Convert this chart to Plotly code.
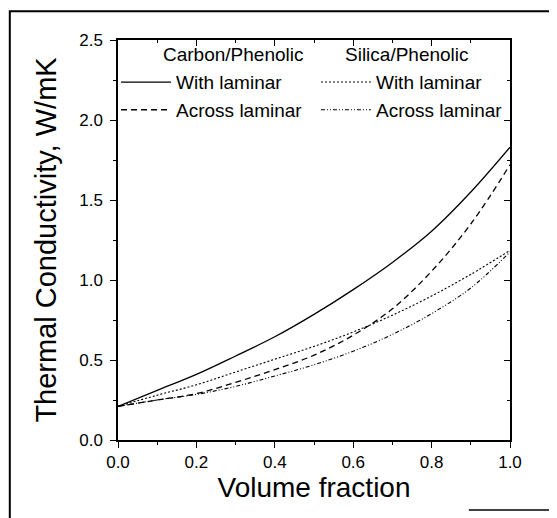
import plotly.graph_objects as go

volume_fraction = [0.0, 0.1, 0.2, 0.3, 0.4, 0.5, 0.6, 0.7, 0.8, 0.9, 1.0]
carbon_with = [0.21, 0.31, 0.41, 0.525, 0.645, 0.785, 0.94, 1.11, 1.305, 1.55, 1.83]
carbon_across = [0.21, 0.25, 0.29, 0.36, 0.44, 0.53, 0.655, 0.82, 1.055, 1.35, 1.72]
silica_with = [0.21, 0.28, 0.345, 0.425, 0.505, 0.585, 0.675, 0.78, 0.90, 1.035, 1.185]
silica_across = [0.21, 0.25, 0.285, 0.335, 0.40, 0.47, 0.555, 0.66, 0.79, 0.95, 1.175]

x_ticks = [0.0, 0.2, 0.4, 0.6, 0.8, 1.0]
x_tick_labels = ["0.0", "0.2", "0.4", "0.6", "0.8", "1.0"]
y_ticks = [0.0, 0.5, 1.0, 1.5, 2.0, 2.5]
y_tick_labels = ["0.0", "0.5", "1.0", "1.5", "2.0", "2.5"]

FONT = "Liberation Sans, Arial, sans-serif"

fig = go.Figure()
fig.add_trace(go.Scatter(x=volume_fraction, y=carbon_with, mode="lines", name="With laminar",
                         line=dict(color="black", width=1.3, shape="spline"), legend="legend"))
fig.add_trace(go.Scatter(x=volume_fraction, y=carbon_across, mode="lines", name="Across laminar",
                         line=dict(color="black", width=1.3, dash="6px,4px", shape="spline"), legend="legend"))
fig.add_trace(go.Scatter(x=volume_fraction, y=silica_with, mode="lines", name="With laminar",
                         line=dict(color="black", width=1.1, dash="2px,2px", shape="spline"), legend="legend2"))
fig.add_trace(go.Scatter(x=volume_fraction, y=silica_across, mode="lines", name="Across laminar",
                         line=dict(color="black", width=1.1, dash="4px,2px,1px,2px,1px,2px", shape="spline"),
                         legend="legend2"))
# invisible trace so the mirrored top/right axes (inward ticks) are drawn
fig.add_trace(go.Scatter(x=volume_fraction, y=carbon_with, mode="lines", xaxis="x2", yaxis="y2",
                         line=dict(color="rgba(0,0,0,0)", width=0), showlegend=False, hoverinfo="skip"))

axis_common = dict(color="black", linecolor="black", linewidth=1.5, showgrid=False, zeroline=False,
                   tickfont=dict(family=FONT, size=17, color="black"))

fig.update_layout(
    width=557, height=518,
    paper_bgcolor="white", plot_bgcolor="white",
    margin=dict(l=110, r=55, t=32, b=86),
    font=dict(family=FONT, color="black"),
    xaxis=dict(range=[0, 1.0], tickvals=x_ticks, ticktext=x_tick_labels,
               ticks="outside", ticklen=6, tickwidth=1.3, tickcolor="black",
               minor=dict(dtick=0.1, ticks="outside", ticklen=3, tickcolor="black"),
               mirror=True, showline=True,
               title=dict(text="Volume fraction", font=dict(family=FONT, size=28), standoff=2),
               **axis_common),
    yaxis=dict(range=[0, 2.5], tickvals=y_ticks, ticktext=y_tick_labels,
               ticks="outside", ticklen=6, tickwidth=1.3, tickcolor="black",
               minor=dict(dtick=0.25, ticks="outside", ticklen=3, tickcolor="black"),
               mirror=True, showline=True, ticklabelstandoff=4,
               title=dict(text="Thermal Conductivity, W/mK", font=dict(family=FONT, size=29), standoff=14),
               **axis_common),
    xaxis2=dict(range=[0, 1.0], overlaying="x", side="top", anchor="y",
                tickvals=x_ticks, showticklabels=False,
                ticks="inside", ticklen=6, tickwidth=1.3, tickcolor="black",
                minor=dict(dtick=0.1, ticks="inside", ticklen=3, tickcolor="black"),
                showline=False, showgrid=False, zeroline=False),
    yaxis2=dict(range=[0, 2.5], overlaying="y", side="right", anchor="x",
                tickvals=y_ticks, showticklabels=False,
                ticks="inside", ticklen=6, tickwidth=1.3, tickcolor="black",
                minor=dict(dtick=0.25, ticks="inside", ticklen=3, tickcolor="black"),
                showline=False, showgrid=False, zeroline=False),
    legend=dict(x=-0.005, y=0.942, xanchor="left", yanchor="top", bgcolor="rgba(0,0,0,0)",
                font=dict(family=FONT, size=19), itemwidth=50, tracegroupgap=0),
    legend2=dict(x=0.505, y=0.942, xanchor="left", yanchor="top", bgcolor="rgba(0,0,0,0)",
                 font=dict(family=FONT, size=19), itemwidth=50, tracegroupgap=0),
    showlegend=True,
)

fig.add_annotation(text="Carbon/Phenolic", xref="paper", yref="paper", x=0.11, y=0.9625,
                   xanchor="left", yanchor="middle", showarrow=False,
                   font=dict(family=FONT, size=19, color="black"))
fig.add_annotation(text="Silica/Phenolic", xref="paper", yref="paper", x=0.575, y=0.9625,
                   xanchor="left", yanchor="middle", showarrow=False,
                   font=dict(family=FONT, size=19, color="black"))

# outer frame of the figure (bottom edge falls below the page except for a short visible piece)
fig.add_shape(type="rect", xref="paper", yref="paper", x0=-0.276, x1=1.1097, y0=-0.25, y1=1.072,
              line=dict(color="black", width=2), fillcolor="rgba(0,0,0,0)", layer="above")
fig.add_shape(type="line", xref="paper", yref="paper", x0=0.895, x1=1.1097, y0=-0.175, y1=-0.175,
              line=dict(color="black", width=1.6))

fig.write_html("out.html")
